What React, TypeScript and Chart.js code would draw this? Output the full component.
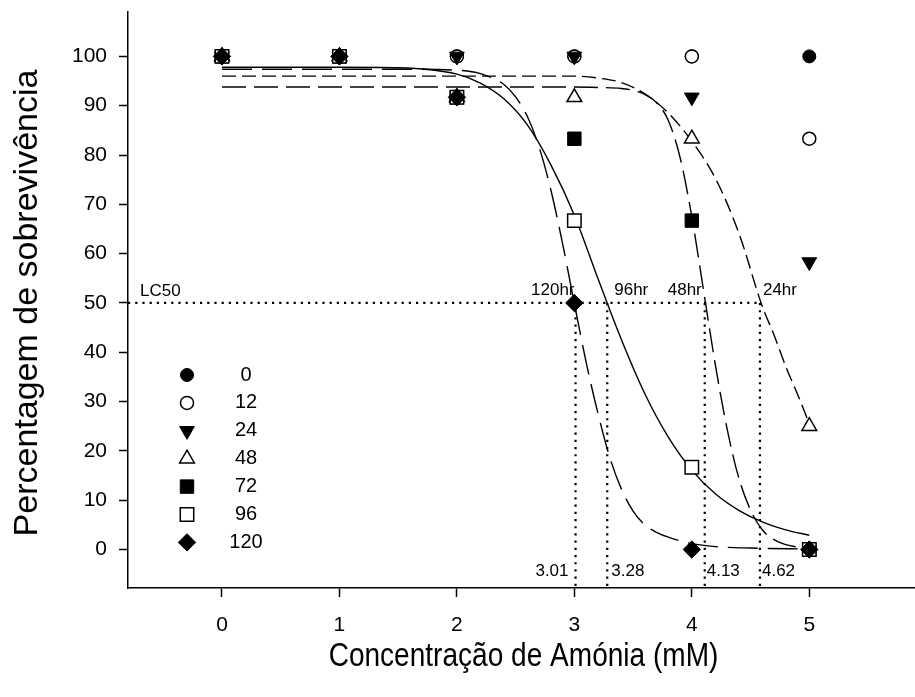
import React, { useEffect, useRef } from 'react';
import { Chart, registerables } from 'chart.js';
import { drawPoint } from 'chart.js/helpers';

Chart.register(...registerables);

// ---------- data ----------
const concentrations = [0, 1, 2, 3, 4, 5];
const seriesNames = ['0', '12', '24', '48', '72', '96', '120'];
const surv0 = [100, 100, 100, 100, 100, 100];
const surv12 = [100, 100, 100, 100, 100, 83.3];
const surv24 = [100, 100, 100, 100, 91.7, 58.3];
const surv48 = [100, 100, 91.7, 91.7, 83.3, 25];
const surv72 = [100, 100, 91.7, 83.3, 66.7, 0];
const surv96 = [100, 100, 91.7, 66.7, 16.7, 0];
const surv120 = [100, 100, 91.7, 50, 0, 0];

// fitted curves
const fit120X = [0, 0.5, 1, 1.5, 2, 2.2, 2.4, 2.5, 2.6, 2.7, 2.8, 2.9, 3.0, 3.1, 3.2, 3.3, 3.4, 3.5, 3.6, 3.7, 3.8, 4.0, 4.2, 4.5, 5.0];
const fit120Y = [97.4, 97.4, 97.4, 97.4, 97.2, 96.5, 94.3, 91.8, 87.8, 81.6, 72.9, 62.0, 49.9, 38.0, 27.7, 18.8, 12.3, 7.8, 5.0, 3.5, 2.5, 1.2, 0.6, 0.3, 0.1];
const fit96X = [0, 1, 1.5, 2, 2.2, 2.4, 2.6, 2.8, 3.0, 3.2, 3.4, 3.6, 3.8, 4.0, 4.2, 4.4, 4.6, 4.8, 5.0];
const fit96Y = [97.8, 97.8, 97.7, 96.4, 94.6, 91.4, 86.1, 78.0, 67.8, 55.0, 42.6, 31.6, 22.8, 16.1, 11.3, 7.95, 5.6, 4.0, 2.9];
const fit48X = [0, 1, 2, 3, 3.2, 3.4, 3.5, 3.6, 3.7, 3.8, 3.9, 4.0, 4.1, 4.2, 4.3, 4.4, 4.5, 4.6, 4.7, 4.8, 4.9, 5.0];
const fit48Y = [93.8, 93.8, 93.8, 93.8, 93.7, 93.5, 93.1, 92.3, 90.6, 87.0, 79.5, 67.5, 52.5, 37.5, 24.5, 14.5, 8.0, 4.0, 2.0, 1.0, 0.5, 0.2];
const fit24X = [0, 1, 2, 3, 3.2, 3.4, 3.6, 3.8, 4.0, 4.2, 4.4, 4.6, 4.7, 4.8, 4.9, 5.0];
const fit24Y = [96.0, 96.0, 96.0, 96.0, 95.6, 94.7, 92.4, 88.5, 82.8, 75.3, 64.2, 49.3, 43.5, 37.1, 31.5, 25.5];

const lc50Level = 50;
const lc50Pos = [3.01, 3.28, 4.11, 4.58];
const lc50Values = ['3.01', '3.28', '4.13', '4.62'];
const lc50Hours = ['120hr', '96hr', '48hr', '24hr'];

const xTicks = [0, 1, 2, 3, 4, 5];
const yTicks = [0, 10, 20, 30, 40, 50, 60, 70, 80, 90, 100];
const X_MIN = -0.8;
const X_MAX = 5.9;
const Y_MIN = -7.8;
const Y_MAX = 109;

const xTitle = 'Concentração de Amónia (mM)';
const yTitle = 'Percentagem de sobrevivência';

// ---------- styles ----------
const FONT = '"Liberation Sans", Arial, Helvetica, sans-serif';
const markerStyles = [
  { pointStyle: 'circle', radius: 6.5, fill: '#000', rotation: 0 },
  { pointStyle: 'circle', radius: 6.5, fill: '#fff', rotation: 0 },
  { pointStyle: 'triangle', radius: 8.5, fill: '#000', rotation: 180 },
  { pointStyle: 'triangle', radius: 8.5, fill: '#fff', rotation: 0 },
  { pointStyle: 'rect', radius: 9.5, fill: '#000', rotation: 0 },
  { pointStyle: 'rect', radius: 9.5, fill: '#fff', rotation: 0 },
  { pointStyle: 'rectRot', radius: 8.7, fill: '#000', rotation: 0 },
];

const allSeries = [surv0, surv12, surv24, surv48, surv72, surv96, surv120];

const annotationPlugin = {
  id: 'annotations',
  afterDatasetsDraw(chart: any) {
    const { ctx, chartArea, scales } = chart;
    const xs = scales.x;
    const ys = scales.y;
    ctx.save();
    ctx.fillStyle = '#000';
    ctx.textBaseline = 'middle';

    // LC50 labels
    const y50 = ys.getPixelForValue(lc50Level);
    ctx.font = `17px ${FONT}`;
    ctx.textAlign = 'left';
    ctx.fillText('LC50', chartArea.left + 12, y50 - 12);
    const hourAlign = ['right', 'left', 'right', 'left'];
    const hourOff = [-1, 7, -3, 3];
    const valAlign = ['right', 'left', 'left', 'left'];
    const valOff = [-7, 4, 2, 2];
    lc50Pos.forEach((v, i) => {
      const px = xs.getPixelForValue(v);
      ctx.textAlign = hourAlign[i];
      ctx.fillText(lc50Hours[i], px + hourOff[i], y50 - 13);
      ctx.textAlign = valAlign[i];
      ctx.fillText(lc50Values[i], px + valOff[i], chartArea.bottom - 17);
    });

    // legend
    const lx = chartArea.left + 59;
    const ly0 = chartArea.top + 363;
    const step = 27.9;
    ctx.font = `20px ${FONT}`;
    seriesNames.forEach((name, i) => {
      const yy = ly0 + i * step;
      const st = markerStyles[i];
      ctx.fillStyle = st.fill;
      ctx.strokeStyle = '#000';
      ctx.lineWidth = st.fill === '#fff' ? 1.5 : 1;
      drawPoint(ctx, { pointStyle: st.pointStyle, rotation: st.rotation, radius: st.radius, borderWidth: ctx.lineWidth } as any, lx, yy);
      ctx.fillStyle = '#000';
      ctx.textAlign = 'center';
      ctx.fillText(name, lx + 59, yy);
    });

    // axis titles
    ctx.textAlign = 'center';
    ctx.save();
    ctx.font = `33px ${FONT}`;
    ctx.translate((chartArea.left + chartArea.right) / 2 + 2, 657);
    ctx.scale(0.85, 1);
    ctx.fillText(xTitle, 0, 0);
    ctx.restore();
    ctx.save();
    ctx.font = `34px ${FONT}`;
    ctx.translate(28, (chartArea.top + chartArea.bottom) / 2 + 3);
    ctx.rotate(-Math.PI / 2);
    ctx.fillText(yTitle, 0, 0);
    ctx.restore();
    ctx.restore();
  },
};

function curve(xv: number[], yv: number[], dash: number[]) {
  return {
    type: 'line',
    data: xv.map((x, i) => ({ x, y: yv[i] })),
    borderColor: '#000',
    borderWidth: 1.4,
    borderDash: dash,
    pointRadius: 0,
    showLine: true,
    fill: false,
    cubicInterpolationMode: 'monotone',
    order: 20,
  };
}

function dotted(points: { x: number; y: number }[]) {
  return {
    type: 'line',
    data: points,
    borderColor: '#000',
    borderWidth: 2.2,
    borderDash: [2.2, 5],
    borderCapStyle: 'butt',
    pointRadius: 0,
    showLine: true,
    fill: false,
    tension: 0,
    order: 30,
  };
}

export default function App() {
  const ref = useRef<HTMLCanvasElement>(null);
  useEffect(() => {
    if (!ref.current) return;
    const markerSets = allSeries.map((vals, i) => {
      const st = markerStyles[i];
      return {
        type: 'line',
        label: seriesNames[i],
        data: concentrations.map((c, j) => ({ x: c, y: vals[j] })),
        showLine: false,
        pointStyle: st.pointStyle,
        pointRotation: st.rotation,
        pointRadius: st.radius,
        pointBackgroundColor: st.fill,
        pointBorderColor: '#000',
        pointBorderWidth: st.fill === '#fff' ? 1.5 : 1,
        order: 10 - i,
      };
    });
    const datasets: any[] = [
      dotted([{ x: X_MIN, y: lc50Level }, { x: lc50Pos[lc50Pos.length - 1], y: lc50Level }]),
      ...lc50Pos.map((p) => dotted([{ x: p, y: lc50Level }, { x: p, y: Y_MIN }])),
      curve(fit120X, fit120Y, [30, 10]),
      curve(fit96X, fit96Y, []),
      curve(fit48X, fit48Y, [24, 8]),
      curve(fit24X, fit24Y, [14, 6]),
      ...markerSets,
    ];
    const chart = new Chart(ref.current, {
      type: 'line',
      data: { datasets },
      options: {
        animation: false,
        responsive: false,
        devicePixelRatio: 1,
        layout: { autoPadding: false, padding: { left: 0, right: 0, top: 12, bottom: 0 } },
        plugins: { legend: { display: false }, tooltip: { enabled: false } },
        scales: {
          x: {
            type: 'linear',
            min: X_MIN,
            max: X_MAX,
            afterBuildTicks: (s: any) => { s.ticks = xTicks.map((v) => ({ value: v })); },
            afterFit: (s: any) => { s.height = 109; s.paddingLeft = 0; s.paddingRight = 0; s.paddingTop = 0; s.paddingBottom = 0; },
            grid: { drawOnChartArea: false, drawTicks: true, tickLength: 9, color: '#000', tickWidth: 1.5 },
            border: { display: true, color: '#000', width: 1.5 },
            ticks: { color: '#000', font: { family: FONT, size: 21 }, padding: 16, maxRotation: 0, autoSkip: false },
          },
          y: {
            type: 'linear',
            min: Y_MIN,
            max: Y_MAX,
            afterBuildTicks: (s: any) => { s.ticks = yTicks.map((v) => ({ value: v })); },
            afterFit: (s: any) => { s.width = 128; s.paddingTop = 0; s.paddingBottom = 0; s.paddingLeft = 0; s.paddingRight = 0; },
            grid: { drawOnChartArea: false, drawTicks: true, tickLength: 9, color: '#000', tickWidth: 1.5 },
            border: { display: true, color: '#000', width: 1.5 },
            ticks: { color: '#000', font: { family: FONT, size: 21 }, padding: 12, autoSkip: false },
          },
        },
      } as any,
      plugins: [annotationPlugin],
    } as any);
    return () => chart.destroy();
  }, []);
  return (
    <div style={{ position: 'fixed', left: 0, top: 0, width: 915, height: 697, background: '#fff' }}>
      <canvas ref={ref} width={915} height={697} style={{ width: 915, height: 697, display: 'block' }} />
    </div>
  );
}
